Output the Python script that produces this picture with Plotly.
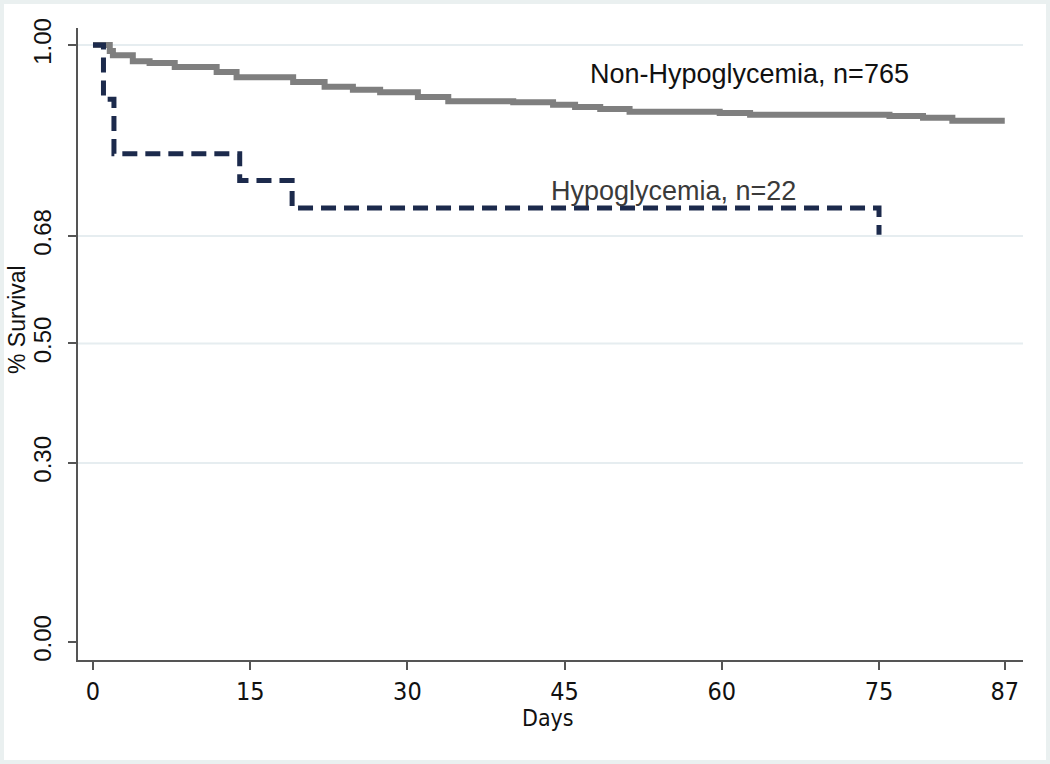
import plotly.graph_objects as go

# Kaplan-Meier step data
non_days = [0, 1.6, 1.9, 3.8, 5.4, 7.8, 11.8, 13.7, 19.1, 22.1, 24.8, 27.4, 31.0, 33.9,
            40.1, 43.9, 46.0, 48.4, 51.2, 59.8, 62.7, 76.0, 79.2, 82.0, 87.0]
non_surv = [1.0, 0.990, 0.983, 0.973, 0.970, 0.963, 0.955, 0.946, 0.938, 0.930, 0.925, 0.921,
            0.913, 0.906, 0.904, 0.900, 0.896, 0.893, 0.888, 0.886, 0.883, 0.881, 0.878, 0.873, 0.873]

hypo_days = [0, 1, 2, 14, 19, 75]
hypo_surv = [1.0, 0.909, 0.818, 0.773, 0.727, 0.682]

y_ticks = [0.00, 0.30, 0.50, 0.68, 1.00]
y_tick_text = ["0.00", "0.30", "0.50", "0.68", "1.00"]
grid_y = [0.30, 0.50, 0.68, 1.00]
x_ticks = [0, 15, 30, 45, 60, 75, 87]

label_non = "Non-Hypoglycemia, n=765"
label_hypo = "Hypoglycemia, n=22"
x_title = "Days"
y_title = "% Survival"

W, H = 1050, 764
ML, MR, MT, MB = 78, 27, 28, 104
PW, PH = W - ML - MR, H - MT - MB

NARROW = "Liberation Sans Narrow, DejaVu Sans Condensed, Arial Narrow, sans-serif"
SANS = "Liberation Sans, Arial, sans-serif"

fig = go.Figure()
fig.add_trace(go.Scatter(x=non_days, y=non_surv, mode="lines", line_shape="hv",
                         line=dict(color="#7f7f7f", width=6), name=label_non,
                         showlegend=False))
fig.add_trace(go.Scatter(x=hypo_days, y=hypo_surv, mode="lines", line_shape="hv",
                         line=dict(color="#1c2a4c", width=5, dash="15px,8px"),
                         name=label_hypo, showlegend=False))

shapes = []
for g in grid_y:
    shapes.append(dict(type="line", xref="paper", yref="y", x0=0, x1=1, y0=g, y1=g,
                       line=dict(color="#e6edf0", width=2), layer="below"))
# outer frame of the graph region
shapes.append(dict(type="rect", xref="paper", yref="paper",
                   x0=(-ML + 2) / PW, x1=(W - ML - 2) / PW,
                   y0=(-MB + 2) / PH, y1=(H - MB - 2) / PH,
                   line=dict(color="#eaf0f0", width=4), fillcolor="rgba(0,0,0,0)", layer="below"))

fig.add_annotation(x=47.2, y=0.952, text=label_non, showarrow=False, xanchor="left",
                   yanchor="middle", font=dict(family=SANS, size=27, color="#111111"))
fig.add_annotation(x=43.5, y=0.756, text=label_hypo, showarrow=False, xanchor="left",
                   yanchor="middle", font=dict(family=SANS, size=27, color="#3a3a3a"))

# axis titles
fig.add_annotation(xref="paper", yref="paper", x=(548 - ML) / PW, y=(H - MB - 718) / PH,
                   text=x_title, showarrow=False, xanchor="center", yanchor="middle",
                   font=dict(family=NARROW, size=23, color="#111111"))
fig.add_annotation(xref="paper", yref="paper", x=(17 - ML) / PW, y=(H - MB - 320) / PH,
                   text=y_title, showarrow=False, xanchor="center", yanchor="middle",
                   textangle=-90, font=dict(family=SANS, size=23, color="#111111"))

fig.update_layout(
    width=W, height=H,
    margin=dict(l=ML, r=MR, t=MT, b=MB, autoexpand=False),
    paper_bgcolor="white", plot_bgcolor="white",
    shapes=shapes,
    xaxis=dict(range=[-1.43, 88.74], tickvals=x_ticks, showgrid=False, zeroline=False,
               automargin=False,
               showline=True, linecolor="#555555", linewidth=2,
               ticks="outside", ticklen=8, tickwidth=2, tickcolor="#555555",
               tickfont=dict(family=NARROW, size=25, color="#111111")),
    yaxis=dict(range=[-0.0302, 1.0285], tickvals=y_ticks, ticktext=y_tick_text,
               showgrid=False, zeroline=False, tickangle=-90, automargin=False,
               ticklabelstandoff=7,
               showline=True, linecolor="#555555", linewidth=2,
               ticks="outside", ticklen=8, tickwidth=2, tickcolor="#555555",
               tickfont=dict(family=SANS, size=24, color="#111111")),
)

fig.write_html("out.html", config={"displayModeBar": False},
               post_script="document.body.style.margin='0px';")
